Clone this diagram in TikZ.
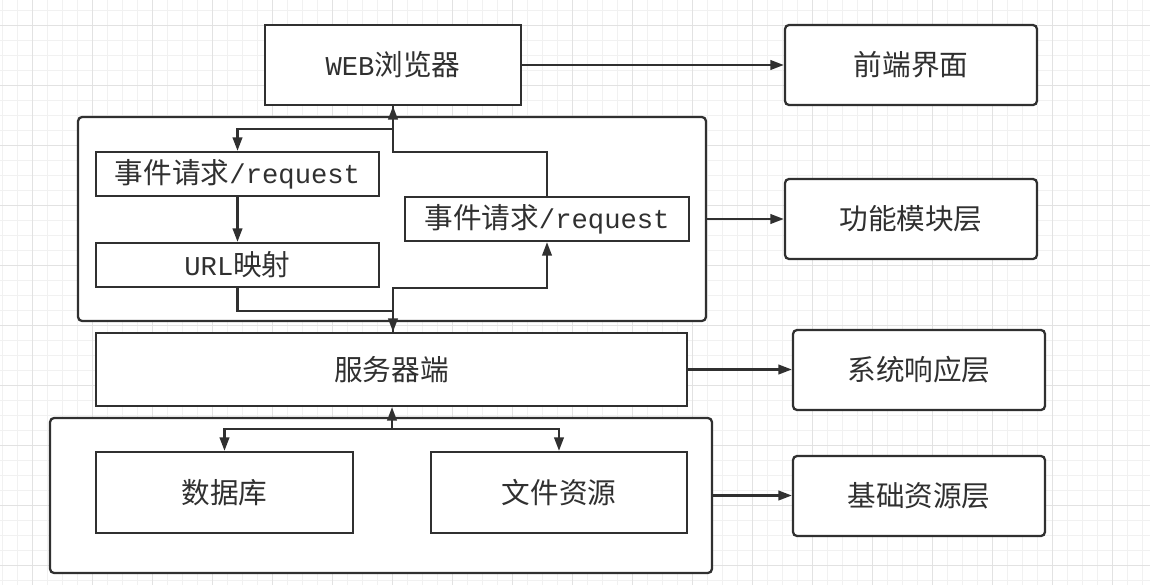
\documentclass[tikz,border=0pt]{standalone}
\usepackage{fontspec}
\usepackage{tikz}
\usetikzlibrary{arrows.meta}
\setmainfont{Liberation Mono}[Scale=0.95]
\newfontfamily\cjk{Noto Sans CJK SC}
\definecolor{linegray}{HTML}{303030}
\definecolor{gridminor}{HTML}{F1F1F1}
\definecolor{gridmajor}{HTML}{E2E2E2}

\tikzset{
  box/.style={draw=linegray, line width=1.3pt, fill=white, inner sep=0pt,
              text=linegray, font=\fontsize{16.3}{19}\selectfont},
  layerbox/.style={box, rounded corners=0.08cm, minimum width=5.04cm, minimum height=1.6cm},
  groupbox/.style={box, rounded corners=0.08cm},
  arr/.style={draw=linegray, line width=1.3pt, -{Triangle[length=0.27cm,width=0.19cm]}},
  link/.style={draw=linegray, line width=1.3pt}
}

\begin{document}
\begin{tikzpicture}[x=0.02cm, y=-0.02cm]
        \useasboundingbox (0,0) rectangle (1150,585);
        \fill [white] (0,0) rectangle (1150,585);                        % background grid
        \foreach \gx in {2.7,17.7,...,1150} \draw [gridminor, line width=0.5pt] (\gx,0) -- (\gx,585);
        \foreach \gy in {10,25,...,585}     \draw [gridminor, line width=0.5pt] (0,\gy) -- (1150,\gy);
        \foreach \gx in {32.7,92.7,...,1150} \draw [gridmajor, line width=0.5pt] (\gx,0) -- (\gx,585);
        \foreach \gy in {25,85,...,585}     \draw [gridmajor, line width=0.5pt] (0,\gy) -- (1150,\gy);

        % left column
        \node [box, minimum width=5.12cm, minimum height=1.6cm]    (web)    at (393,65)    {WEB{\cjk 浏览器}};
        \node [groupbox, minimum width=12.56cm, minimum height=4.08cm] (func) at (392,219) {};
        \node [box, minimum width=5.66cm, minimum height=0.88cm]   (req1)   at (237.5,174) {{\cjk 事件请求}/request};
        \node [box, minimum width=5.66cm, minimum height=0.88cm]   (url)    at (237.5,265) {URL{\cjk 映射}};
        \node [box, minimum width=5.68cm, minimum height=0.88cm]   (req2)   at (547,219)   {{\cjk 事件请求}/request};
        \node [box, minimum width=11.82cm, minimum height=1.46cm]  (server) at (391.5,369.5) {\cjk 服务器端};
        \node [groupbox, minimum width=13.24cm, minimum height=3.1cm] (base) at (381,495.5) {};
        \node [box, minimum width=5.14cm, minimum height=1.62cm]   (db)     at (224.5,492.5) {\cjk 数据库};
        \node [box, minimum width=5.12cm, minimum height=1.62cm]   (file)   at (559,492.5) {\cjk 文件资源};

        % right column
        \node [layerbox] (front)  at (911,65)  {\cjk 前端界面};
        \node [layerbox] (layfun) at (911,219) {\cjk 功能模块层};
        \node [layerbox] (laysys) at (919,370) {\cjk 系统响应层};
        \node [layerbox] (layres) at (919,496) {\cjk 基础资源层};

        \coordinate (tA) at (393,129);
        \coordinate (tB) at (393,152);
        \coordinate (bB) at (393,288);
        \coordinate (bA) at (393,311);
        \coordinate (jb) at (392,429);

        \draw [arr]  (web.east)    -- (front.west);                      %
        \draw [arr]  (func.east)   -- (func.east -| layfun.west);        %
        \draw [arr]  (server.east) -- (server.east -| laysys.west);      %
        \draw [arr]  (base.east)   -- (base.east -| layres.west);        %

        \draw [arr]  (req2.north) |- (tB) -- (web.south);                % up to browser
        \draw [arr]  (tA) -| (req1.north);                               %
        \draw [arr]  (req1) -- (url);                                    %
        \draw [arr]  (url.south) |- (bA) -- (bA |- server.north);        % down to server
        \draw [arr]  (bA |- server.north) -- (bB) -| (req2.south);       %
        \draw [link] (web.south) -- (tA);                                %

        \draw [arr]  (jb) -- (jb |- server.south);                       %
        \draw [arr]  (jb) -| (db.north);                                 %
        \draw [arr]  (jb) -| (file.north);                               %
\end{tikzpicture}
\end{document}
